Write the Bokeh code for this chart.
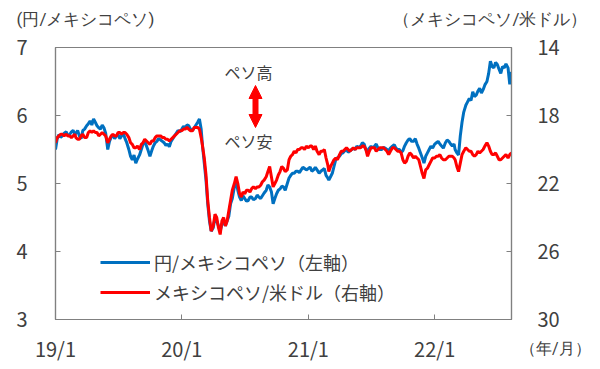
from datetime import datetime
from bokeh.plotting import figure
from bokeh.models import (Range1d, LinearAxis, FixedTicker, Label, Arrow, NormalHead,
                          Legend, LegendItem, ColumnDataSource)
from bokeh.embed import file_html
from bokeh.resources import INLINE

# 円/メキシコペソ (left axis), on days 1, 6, 11, 16, 21, 26 of each month (one row per month)
jpy_mxn = [
    5.50, 5.66, 5.72, 5.68, 5.70, 5.74,   # 2019-01
    5.76, 5.70, 5.72, 5.76, 5.78, 5.72,
    5.74, 5.78, 5.70, 5.66, 5.78, 5.80,
    5.85, 5.88, 5.92, 5.86, 5.95, 5.90,
    5.85, 5.82, 5.80, 5.86, 5.82, 5.74,
    5.50, 5.62, 5.68, 5.72, 5.66, 5.70,
    5.72, 5.66, 5.70, 5.74, 5.66, 5.60,
    5.50, 5.40, 5.35, 5.42, 5.30, 5.36,
    5.42, 5.50, 5.58, 5.62, 5.55, 5.48,
    5.40, 5.48, 5.55, 5.60, 5.62, 5.66,
    5.64, 5.62, 5.60, 5.56, 5.58, 5.54,
    5.62, 5.66, 5.70, 5.74, 5.78, 5.76,
    5.80, 5.84, 5.82, 5.86, 5.85, 5.80,   # 2020-01
    5.78, 5.82, 5.86, 5.90, 5.95, 5.80,
    5.55, 5.30, 5.05, 4.70, 4.45, 4.30,
    4.35, 4.50, 4.45, 4.38, 4.30, 4.40,
    4.45, 4.38, 4.45, 4.52, 4.70, 4.78,
    4.95, 5.02, 4.90, 4.80, 4.75, 4.82,
    4.78, 4.74, 4.75, 4.80, 4.80, 4.76,
    4.78, 4.83, 4.80, 4.78, 4.82, 4.86,
    4.90, 4.98, 4.95, 4.88, 4.70, 4.78,
    4.85, 4.90, 4.92, 4.96, 4.95, 4.90,
    5.00, 5.08, 5.12, 5.15, 5.15, 5.18,
    5.18, 5.16, 5.20, 5.24, 5.22, 5.20,
    5.22, 5.24, 5.18, 5.20, 5.24, 5.20,   # 2021-01
    5.15, 5.18, 5.20, 5.22, 5.12, 5.08,
    5.05, 5.10, 5.15, 5.25, 5.35, 5.38,
    5.40, 5.44, 5.45, 5.48, 5.50, 5.46,
    5.48, 5.50, 5.52, 5.50, 5.55, 5.53,
    5.55, 5.60, 5.58, 5.50, 5.48, 5.52,
    5.55, 5.52, 5.55, 5.58, 5.52, 5.50,
    5.50, 5.53, 5.52, 5.50, 5.48, 5.52,
    5.55, 5.57, 5.52, 5.50, 5.50, 5.46,
    5.48, 5.55, 5.60, 5.64, 5.66, 5.62,
    5.62, 5.66, 5.58, 5.52, 5.45, 5.38,
    5.30, 5.40, 5.45, 5.50, 5.55, 5.52,
    5.58, 5.60, 5.62, 5.58, 5.55, 5.52,   # 2022-01
    5.60, 5.64, 5.62, 5.58, 5.55, 5.58,
    5.50, 5.45, 5.42, 5.70, 5.90, 6.05,
    6.15, 6.20, 6.25, 6.22, 6.35, 6.28,
    6.30, 6.36, 6.40, 6.33, 6.38, 6.45,
    6.50, 6.62, 6.80, 6.72, 6.70, 6.78,
    6.75, 6.68, 6.62, 6.72, 6.70, 6.76,
    6.70, 6.46, 6.64,
]
# メキシコペソ/米ドル (right axis, inverted), same dates
mxn_usd = [
    19.6, 19.3, 19.2, 19.1, 19.1, 19.2,   # 2019-01
    19.1, 19.2, 19.2, 19.3, 19.2, 19.1,
    19.3, 19.4, 19.4, 19.2, 19.1, 19.3,
    19.3, 19.0, 18.9, 19.0, 18.9, 19.0,
    19.0, 19.2, 19.1, 19.0, 19.1, 19.2,
    19.6, 19.4, 19.2, 19.1, 19.2, 19.2,
    19.0, 19.0, 19.1, 19.0, 19.0, 19.1,
    19.3, 19.6, 19.7, 19.9, 19.9, 19.8,
    20.0, 19.7, 19.6, 19.4, 19.5, 19.6,
    19.7, 19.5, 19.5, 19.3, 19.2, 19.2,
    19.2, 19.3, 19.3, 19.4, 19.4, 19.5,
    19.4, 19.3, 19.2, 19.1, 19.0, 18.9,
    18.9, 18.8, 18.8, 18.7, 18.8, 18.9,   # 2020-01
    18.9, 18.7, 18.7, 18.7, 18.8, 19.3,
    19.8, 20.5, 21.5, 23.0, 24.0, 24.8,
    24.5, 23.8, 24.0, 24.6, 25.0, 24.2,
    24.0, 24.5, 24.2, 23.6, 23.0, 22.4,
    22.0, 21.6, 22.0, 22.6, 22.8, 22.5,
    22.6, 22.4, 22.4, 22.5, 22.3, 22.2,
    22.3, 22.2, 22.2, 22.1, 21.9, 21.8,
    21.6, 21.3, 21.0, 21.6, 22.2, 22.0,
    21.8, 21.5, 21.3, 21.0, 21.1, 21.3,
    21.2, 20.6, 20.4, 20.3, 20.1, 20.2,
    20.0, 20.0, 19.9, 19.9, 20.0, 19.8,
    19.9, 19.8, 19.8, 20.0, 19.8, 20.1,   # 2021-01
    20.3, 20.1, 20.1, 20.0, 20.5, 20.9,
    21.3, 21.0, 20.8, 20.6, 20.5, 20.6,
    20.3, 20.1, 20.1, 20.0, 19.9, 20.0,
    20.1, 20.0, 19.9, 20.0, 19.9, 19.9,
    19.9, 19.8, 19.8, 20.0, 20.4, 20.1,
    19.9, 19.9, 19.9, 20.1, 20.0, 19.9,
    19.9, 19.9, 20.0, 20.1, 20.3, 20.1,
    19.9, 19.9, 20.0, 20.1, 20.1, 20.2,
    20.6, 20.8, 20.7, 20.4, 20.2, 20.3,
    20.5, 20.4, 20.5, 20.6, 21.0, 21.4,
    21.7, 21.2, 21.1, 20.9, 20.7, 20.5,
    20.5, 20.4, 20.4, 20.3, 20.5, 20.6,   # 2022-01
    20.6, 20.5, 20.4, 20.4, 20.4, 20.5,
    20.6, 21.0, 21.3, 20.8, 20.3, 20.1,
    19.9, 20.0, 20.1, 20.1, 20.3, 20.4,
    20.3, 20.1, 20.2, 20.1, 20.0, 19.8,
    19.6, 19.8, 20.1, 20.3, 20.3, 20.2,
    20.4, 20.6, 20.6, 20.5, 20.4, 20.3,
    20.5, 20.3, 20.2,
]
left_ticks = [3, 4, 5, 6, 7]
right_ticks = [14, 18, 22, 26, 30]
x_tick_dates = [datetime(2019, 1, 1), datetime(2020, 1, 1), datetime(2021, 1, 1), datetime(2022, 1, 1)]
x_tick_labels = ["19/1", "20/1", "21/1", "22/1"]
unit_left = "(円/メキシコペソ)"
unit_right = "（メキシコペソ/米ドル）"
unit_x = "（年/月）"
legend_labels = ["円/メキシコペソ（左軸）", "メキシコペソ/米ドル（右軸）"]

dates = []
for yy in range(2019, 2023):
    for mm in range(1, 13):
        for dd in (1, 6, 11, 16, 21, 26):
            dates.append(datetime(yy, mm, dd))
dates = dates[:len(jpy_mxn)]

src = ColumnDataSource(dict(date=dates, jpy=jpy_mxn, usd=mxn_usd))

FONT = "Noto Sans CJK JP"
UFONT = "Roboto"
TXT = "#404040"
AX = "#808080"

p = figure(width=600, height=369, x_axis_type="datetime",
           output_backend="svg", toolbar_location=None,
           x_range=Range1d(datetime(2019, 1, 1), datetime(2022, 8, 11)),
           y_range=Range1d(3, 7),
           min_border_left=55, min_border_top=47, min_border_right=89, min_border_bottom=50)
p.extra_y_ranges = {"usd": Range1d(start=30, end=14)}
p.extra_x_ranges = {"px": Range1d(0, 456)}
p.grid.visible = False
p.outline_line_color = AX
p.outline_line_width = 1.2
p.background_fill_color = "white"
p.border_fill_color = "white"

def style(ax, standoff):
    ax.axis_line_color = AX
    ax.axis_line_width = 1.2
    ax.major_tick_line_color = AX
    ax.major_tick_in = 5
    ax.major_tick_out = 0
    ax.minor_tick_line_color = None
    ax.major_label_text_font = FONT
    ax.major_label_text_font_size = "20px"
    ax.major_label_text_color = TXT
    ax.major_label_standoff = standoff

ya = p.yaxis[0]
ya.ticker = FixedTicker(ticks=left_ticks)
style(ya, 28)

xa = p.xaxis[0]
tick_ms = [d.timestamp() * 1000 for d in x_tick_dates]
xa.ticker = FixedTicker(ticks=tick_ms)
xa.major_label_overrides = {t: l for t, l in zip(tick_ms, x_tick_labels)}
style(xa, 14)

ra = LinearAxis(y_range_name="usd", ticker=FixedTicker(ticks=right_ticks))
style(ra, 26)
p.add_layout(ra, "right")

r_blue = p.line("date", "jpy", source=src, line_color="#0070C0", line_width=3)
r_red = p.line("date", "usd", source=src, y_range_name="usd", line_color="#FF0000", line_width=3)

legend = Legend(items=[LegendItem(label=legend_labels[0], renderers=[r_blue]),
                       LegendItem(label=legend_labels[1], renderers=[r_red])],
                location=(45, 14), padding=0, margin=0, spacing=4,
                glyph_width=50, glyph_height=20, label_height=20, label_standoff=4,
                label_text_font=FONT, label_text_font_size="18px", label_text_color=TXT,
                border_line_alpha=0, background_fill_alpha=0)
p.add_layout(legend)

# (年/月): label in the top side panel (inner row), placed down at the x-label line
p.add_layout(Label(x=535, y=-301, x_units="screen", y_units="screen", text=unit_x,
                   text_font=UFONT, text_font_size="16px", text_color=TXT,
                   text_align="right", text_baseline="middle"), "above")

# unit captions of both value axes, as labels of an unlined top axis
ua = LinearAxis(x_range_name="px", ticker=FixedTicker(ticks=[30, 435]),
                major_label_overrides={30: unit_left, 435: unit_right})
ua.axis_line_color = None
ua.major_tick_line_color = None
ua.minor_tick_line_color = None
ua.major_tick_in = 0
ua.major_tick_out = 0
ua.major_label_standoff = 0
ua.major_label_text_font = UFONT
ua.major_label_text_font_size = "17px"
ua.major_label_text_color = TXT
p.add_layout(ua, "above")

def lab(text, x, y, size="16px"):
    p.add_layout(Label(x=x, y=y, x_units="screen", y_units="screen", text=text,
                       text_font=FONT, text_font_size=size, text_color=TXT,
                       text_align="center", text_baseline="middle"))

lab("ペソ高", 193, 248)
lab("ペソ安", 193, 179)

p.add_layout(Arrow(x_start=200, y_start=192, x_end=200, y_end=234,
                   start_units="screen", end_units="screen",
                   line_color="#FF0000", line_width=6,
                   start=NormalHead(size=13, fill_color="#FF0000", line_color="#FF0000"),
                   end=NormalHead(size=13, fill_color="#FF0000", line_color="#FF0000")))

open("out.html", "w").write(file_html(p, INLINE))
